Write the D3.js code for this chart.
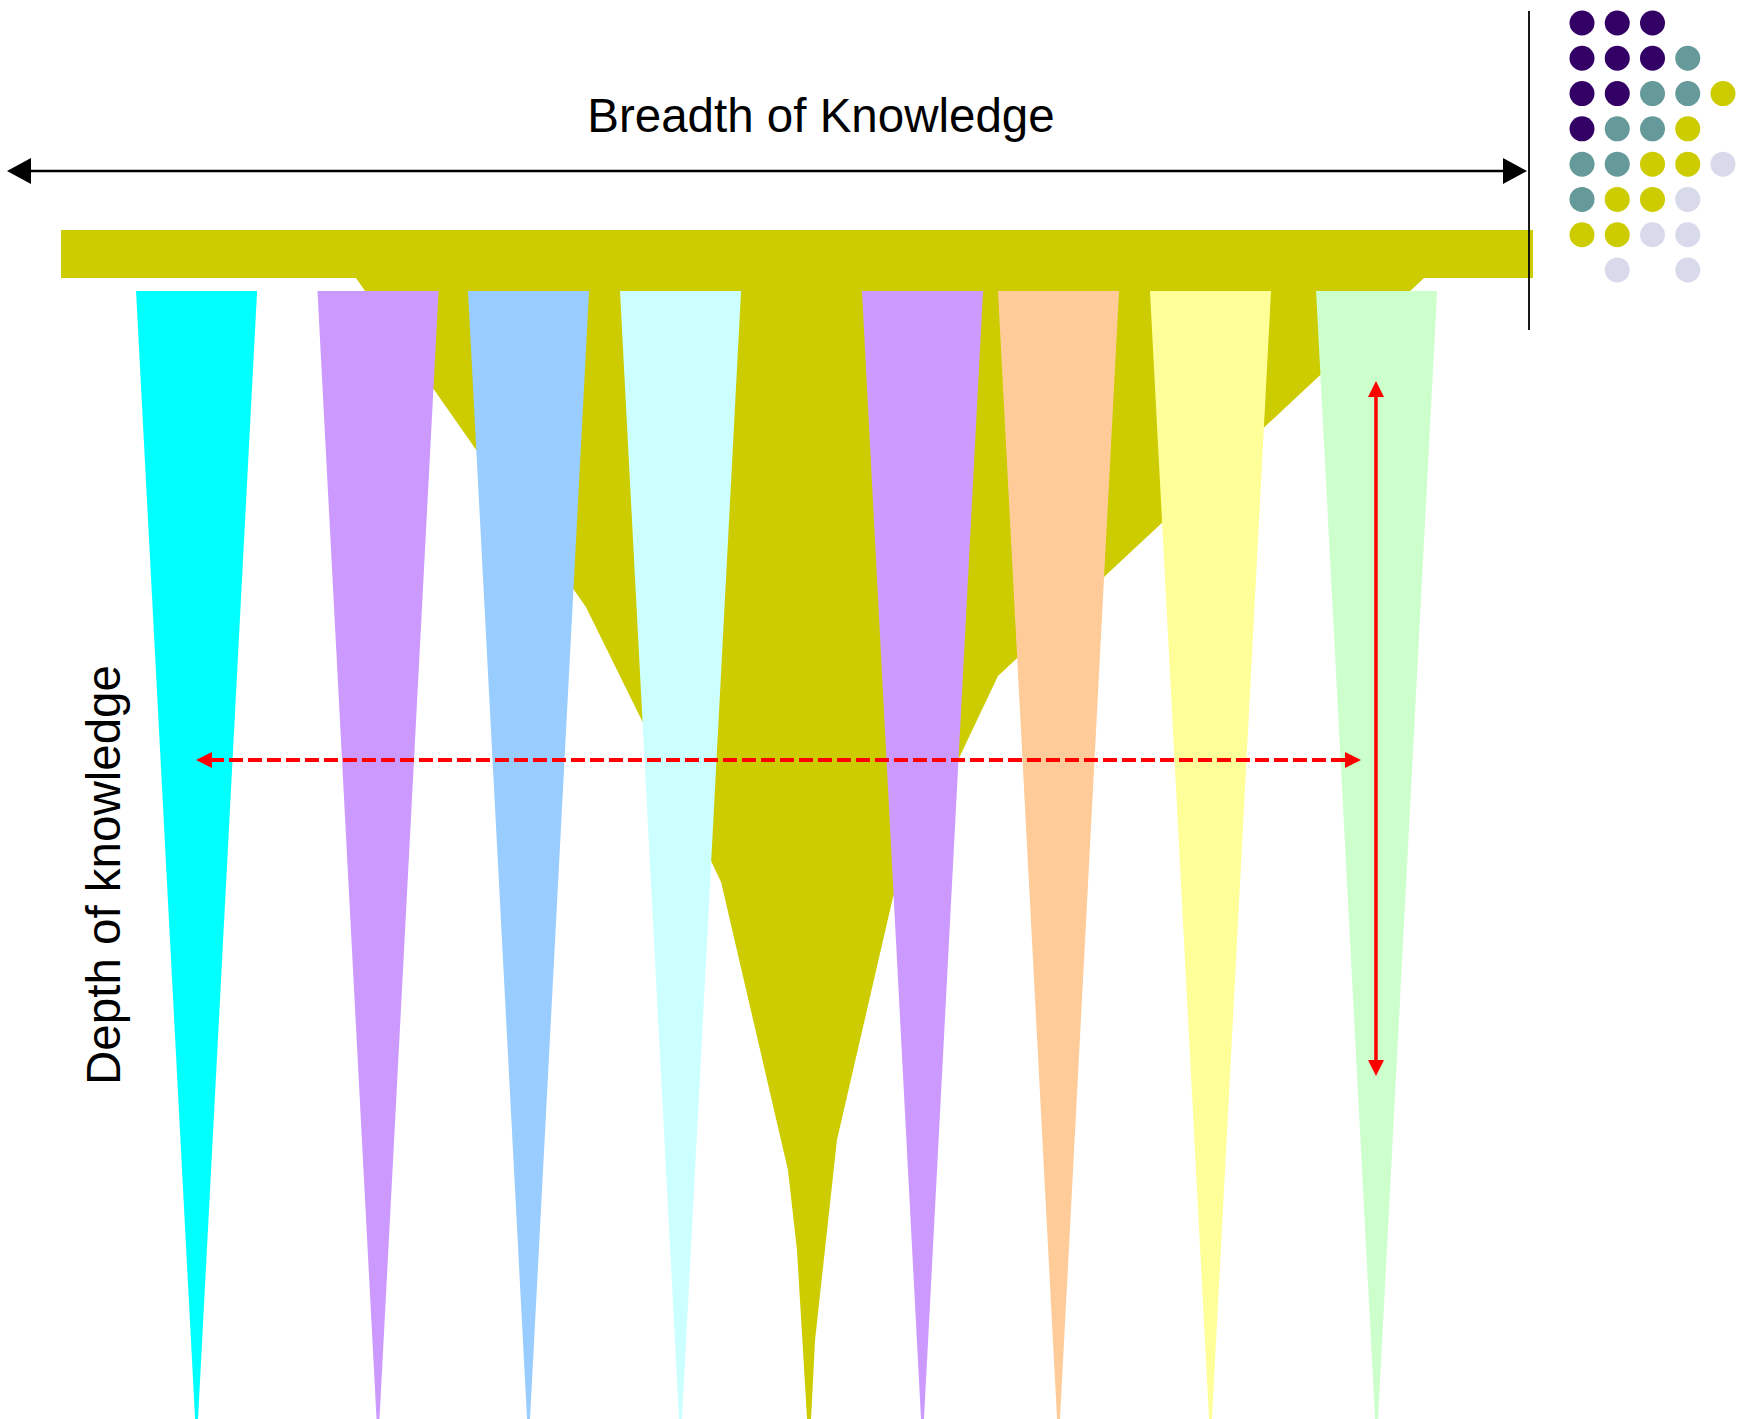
<!DOCTYPE html>
<html>
<head>
<meta charset="utf-8">
<script src="https://cdn.jsdelivr.net/npm/d3@7"></script>
<style>
  body { margin: 0; background: #fff; }
  svg { display: block; font-family: "Liberation Sans", Arial, sans-serif; }
</style>
</head>
<body>
<div id="chart"></div>
<script>
// data: breadth (0-100 across the bar) and depth (0 at bar bottom, 100 at the tips)
let topicNames = ['t1', 't2', 't3', 't4', 't5', 't6', 't7', 't8'];
let topicColors = ['#00ffff', '#cc99ff', '#99ccff', '#ccffff', '#cc99ff', '#ffcc99', '#ffff99', '#ccffcc'];
let topicBreadth = [9.7, 21.96, 32.13, 42.4, 58.75, 67.94, 78.21, 89.43];
let topicTopDepth = 1.14;
let topicHalfWidth = 4.09;
let topicTipHalfWidth = 0.1;

// olive "T" profile, left edge top to bottom then right edge bottom to top
let oliveLeft = [[20.47, 0], [36.01, 28.83], [44.53, 51.27], [45.14, 52.94], [49.66, 78.18], [50.27, 85.19], [50.95, 100]];
let oliveRight = [[51.22, 100], [51.49, 93.08], [52.97, 75.55], [56.76, 54.25], [63.85, 34.88], [92.64, 0]];
let barBreadth = [0.54, 100];
let barDepth = [-4.21, 0];

// red measuring arrows
let breadthArrow = { from: 9.66, to: 88.38, depth: 42.24 };
let depthArrow = { breadth: 89.39, from: 9.03, to: 69.94 };

// legend dot grid (P purple, T teal, Y olive, L lavender)
let dotRows = ['PPP..', 'PPPT.', 'PPTTY', 'PTTY.', 'TTYYL', 'TYYL.', 'YYLL.', '.L.L.'];
let dotColors = { P: '#330066', T: '#669999', Y: '#cccc00', L: '#d9d9ec' };

let titleText = 'Breadth of Knowledge';
let depthText = 'Depth of knowledge';

let width = 1749;
let height = 1419;

let svg = d3.select('#chart')
  .append('svg')
  .attr('width', width)
  .attr('height', height);

let x = d3.scaleLinear().domain([0, 100]).range([53, 1533]);
let y = d3.scaleLinear().domain([0, 100]).range([278, 1419]);

let line = d3.line().x(d => x(d[0])).y(d => y(d[1]));

// olive bar + hanging shape
svg.append('rect')
  .attr('x', x(barBreadth[0]))
  .attr('y', y(barDepth[0]))
  .attr('width', x(barBreadth[1]) - x(barBreadth[0]))
  .attr('height', y(barDepth[1]) - y(barDepth[0]))
  .attr('fill', '#cccc00');

svg.append('path')
  .attr('d', line(oliveLeft.concat(oliveRight)) + 'Z')
  .attr('fill', '#cccc00');

// the narrow topic spikes
svg.selectAll('.spike')
  .data(topicNames)
  .enter()
  .append('path')
  .attr('class', 'spike')
  .attr('fill', (d, i) => topicColors[i])
  .attr('d', (d, i) => {
    let c = topicBreadth[i];
    return line([
      [c - topicHalfWidth, topicTopDepth],
      [c + topicHalfWidth, topicTopDepth],
      [c + topicTipHalfWidth, 100],
      [c - topicTipHalfWidth, 100]
    ]) + 'Z';
  });

// arrow head helper, tip at (tx,ty), pointing in direction (dx,dy)
function head(tx, ty, dx, dy, len, half) {
  let bx = tx - dx * len, by = ty - dy * len;
  let px = -dy * half, py = dx * half;
  return `M${tx},${ty}L${bx + px},${by + py}L${bx - px},${by - py}Z`;
}

// black breadth arrow at the top
let blackY = 171;
let blackL = 7, blackR = 1527;
svg.append('line')
  .attr('x1', blackL + 20).attr('x2', blackR - 20)
  .attr('y1', blackY).attr('y2', blackY)
  .attr('stroke', '#000').attr('stroke-width', 2.5);
svg.append('path').attr('d', head(blackL, blackY, -1, 0, 24, 13)).attr('fill', '#000');
svg.append('path').attr('d', head(blackR, blackY, 1, 0, 24, 13)).attr('fill', '#000');

// thin vertical divider
svg.append('line')
  .attr('x1', 1529).attr('x2', 1529)
  .attr('y1', 11).attr('y2', 330)
  .attr('stroke', '#000').attr('stroke-width', 1.8);

// red dashed breadth arrow
let ry = y(breadthArrow.depth);
let rl = x(breadthArrow.from), rr = x(breadthArrow.to);
svg.append('line')
  .attr('x1', rl + 14).attr('x2', rr - 14)
  .attr('y1', ry).attr('y2', ry)
  .attr('stroke', '#ff0000').attr('stroke-width', 4)
  .attr('stroke-dasharray', '14,5');
svg.append('path').attr('d', head(rl, ry, -1, 0, 16, 8)).attr('fill', '#ff0000');
svg.append('path').attr('d', head(rr, ry, 1, 0, 16, 8)).attr('fill', '#ff0000');

// red depth arrow
let vx = x(depthArrow.breadth);
let vt = y(depthArrow.from), vb = y(depthArrow.to);
svg.append('line')
  .attr('x1', vx).attr('x2', vx)
  .attr('y1', vt + 14).attr('y2', vb - 14)
  .attr('stroke', '#ff0000').attr('stroke-width', 3.5);
svg.append('path').attr('d', head(vx, vt, 0, -1, 16, 8)).attr('fill', '#ff0000');
svg.append('path').attr('d', head(vx, vb, 0, 1, 16, 8)).attr('fill', '#ff0000');

// labels
svg.append('text')
  .attr('x', 821).attr('y', 132)
  .attr('text-anchor', 'middle')
  .attr('font-size', 47.5)
  .attr('fill', '#000')
  .text(titleText);

svg.append('text')
  .attr('transform', 'translate(120,875) rotate(-90)')
  .attr('text-anchor', 'middle')
  .attr('font-size', 47.5)
  .attr('fill', '#000')
  .text(depthText);

// dot grid in the corner
let col = d3.scalePoint().domain(d3.range(5)).range([1582, 1723]);
let row = d3.scalePoint().domain(d3.range(dotRows.length)).range([23, 270]);

let dots = [];
dotRows.forEach((r, ri) => {
  r.split('').forEach((c, ci) => {
    if (c !== '.') dots.push({ r: ri, c: ci, k: c });
  });
});

svg.selectAll('.dot')
  .data(dots)
  .enter()
  .append('circle')
  .attr('class', 'dot')
  .attr('cx', d => col(d.c))
  .attr('cy', d => row(d.r))
  .attr('r', 12.5)
  .attr('fill', d => dotColors[d.k]);
</script>
</body>
</html>
